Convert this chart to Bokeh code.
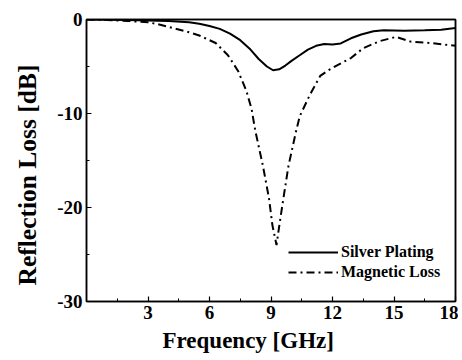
from bokeh.plotting import figure
from bokeh.models import FixedTicker, Legend, LegendItem, Title, LinearAxis
from bokeh.embed import file_html
from bokeh.resources import INLINE

# ---- data ----
freq_silver = [0, 2, 4, 5, 5.5, 6, 6.5, 7, 7.5, 8, 8.4, 8.8, 9.1, 9.4, 9.7, 10.0,
               10.4, 10.8, 11.2, 11.6, 12.0, 12.4, 12.9, 13.4, 14.0, 14.5, 15.5,
               16.5, 17.3, 18]
silver = [0, -0.05, -0.15, -0.3, -0.45, -0.7, -1.0, -1.5, -2.2, -3.2, -4.2, -5.0,
          -5.4, -5.3, -4.9, -4.4, -3.8, -3.2, -2.8, -2.6, -2.65, -2.55, -2.0,
          -1.6, -1.25, -1.15, -1.2, -1.15, -1.1, -0.9]

freq_mag = [0, 1, 2, 3, 3.5, 4.3, 5.0, 5.5, 6.3, 6.9, 7.4, 7.8, 8.05, 8.24, 8.6,
            8.9, 9.07, 9.27, 9.4, 9.6, 9.85, 10.2, 10.4, 10.9, 11.4, 11.8, 12.2,
            12.9, 13.5, 14.3, 15.1, 15.8, 16.8, 18]
mag = [0, -0.05, -0.15, -0.3, -0.5, -0.95, -1.35, -1.7, -2.5, -3.8, -5.5, -7.6,
       -9.5, -11.9, -15.5, -19.0, -21.9, -24.0, -22.0, -19.1, -15.6, -12.1,
       -10.3, -8.0, -6.0, -5.4, -4.9, -4.1, -3.05, -2.3, -1.85, -2.35, -2.5, -2.8]

x_ticks = [3, 6, 9, 12, 15, 18]
x_minor = [1.5, 4.5, 7.5, 10.5, 13.5, 16.5]
y_ticks = [-30, -20, -10, 0]
y_minor = [-25, -15, -5]
y_tick_labels = ["-30", "-20", "-10", "0"]

series_names = ["Silver Plating", "Magnetic Loss"]
x_title = "Frequency [GHz]"
y_title = "Reflection Loss [dB]"

FONT = "Liberation Serif"

p = figure(width=458, height=360, x_range=(0, 18), y_range=(-30, 0),
           output_backend="svg", toolbar_location=None,
           min_border_left=86, min_border_right=3, min_border_top=19,
           min_border_bottom=59)
p.background_fill_color = "white"
p.border_fill_color = "white"
p.xgrid.visible = False
p.ygrid.visible = False
p.outline_line_color = "black"
p.outline_line_width = 1.5

xa = p.below[0]
ya = p.left[0]

for ax in (xa, ya):
    ax.axis_line_width = 1.5
    ax.axis_line_color = "black"
    ax.major_tick_in = 5
    ax.major_tick_out = 0
    ax.minor_tick_in = 3
    ax.minor_tick_out = 0
    ax.major_tick_line_width = 1.2
    ax.minor_tick_line_width = 1
    ax.major_label_text_font = FONT
    ax.major_label_text_font_style = "bold"
    ax.major_label_text_font_size = "19px"
    ax.major_label_text_color = "black"
    ax.major_label_standoff = 4

xa.ticker = FixedTicker(ticks=x_ticks, minor_ticks=x_minor)
ya.ticker = FixedTicker(ticks=y_ticks, minor_ticks=y_minor)
ya.major_label_overrides = {t: s for t, s in zip(y_ticks, y_tick_labels)}

# frame lines on top and right
for side in ("above", "right"):
    ax = LinearAxis(ticker=FixedTicker(ticks=[]), axis_line_width=1.5,
                    axis_line_color="black", major_tick_in=0, major_tick_out=0,
                    minor_tick_in=0, minor_tick_out=0,
                    major_label_text_font_size="0px", major_label_standoff=0)
    p.add_layout(ax, side)

r1 = p.line(freq_silver, silver, line_color="black", line_width=2)
r2 = p.line(freq_mag, mag, line_color="black", line_width=2, line_dash="8 4 2 4")

legend = Legend(items=[LegendItem(label=series_names[0], renderers=[r1]),
                       LegendItem(label=series_names[1], renderers=[r2])],
                location=(202, 19), padding=0, margin=0, spacing=0,
                border_line_color=None, background_fill_alpha=0,
                glyph_width=50, glyph_height=20, label_height=20,
                label_standoff=3, label_text_font=FONT,
                label_text_font_style="bold", label_text_font_size="16px",
                label_text_color="black")
p.add_layout(legend)

p.add_layout(Title(text=x_title, align="left", offset=76, standoff=8,
                   vertical_align="bottom", text_font=FONT, text_color="black",
                   text_font_style="bold", text_font_size="23px"), "below")
p.add_layout(Title(text=y_title, align="left", offset=16, standoff=22,
                   vertical_align="top", text_font=FONT, text_color="black",
                   text_font_style="bold", text_font_size="25.5px"), "left")

open("out.html", "w").write(file_html(p, INLINE))
